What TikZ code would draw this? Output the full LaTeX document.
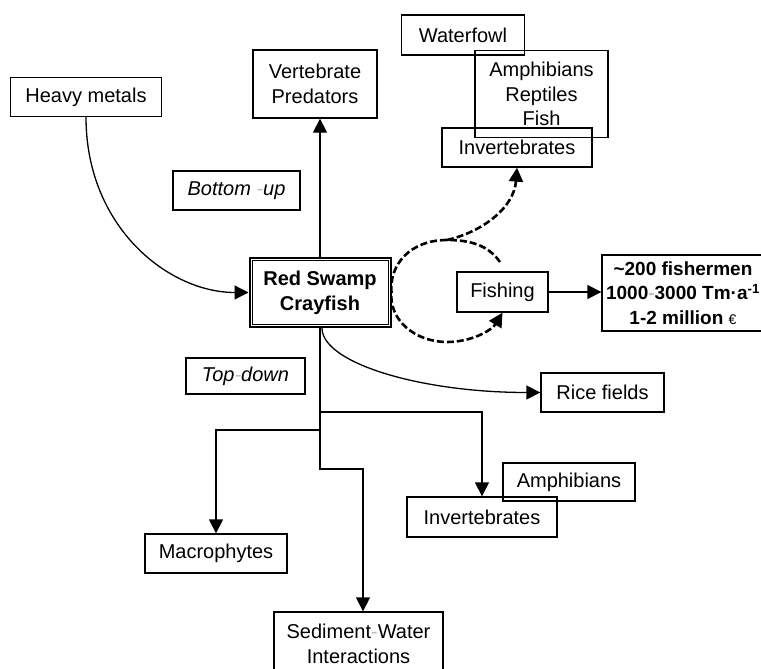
\documentclass[tikz,border=0pt]{standalone}
\usepackage{fontspec}
\setmainfont{Liberation Sans}
\usetikzlibrary{arrows.meta}

\begin{document}
\begin{tikzpicture}[x=1pt,y=-1pt,
    box/.style={draw,line width=1.3pt,inner sep=0pt,align=center,font=\fontsize{20}{24.5}\selectfont},
    arr/.style={line width=1.3pt,-{Triangle[length=14pt,width=14pt]}},
    dashloop/.style={line width=2.6pt,dash pattern=on 7pt off 3pt,-{Triangle[length=14pt,width=14pt]}}]
\useasboundingbox (0,0) rectangle (761,669);
\node[box,minimum width=151pt,minimum height=39pt] (heavy) at (86,97) {Heavy metals};
\node[box,minimum width=124pt,minimum height=68pt] (vert) at (315,84) {Vertebrate\\Predators};
\node[box,minimum width=123pt,minimum height=40pt] (fowl) at (463,35) {Waterfowl};
\node[box,minimum width=133pt,minimum height=87pt,font=\fontsize{20}{24.5}\selectfont] (amphtop) at (541.5,94) {Amphibians\\Reptiles\\Fish};
\node[box,minimum width=150pt,minimum height=39pt] (invtop) at (517,147.5) {Invertebrates};
\node[box,minimum width=127pt,minimum height=39pt,font=\fontsize{20}{24.5}\selectfont\itshape] (bottomup) at (236.5,190.5) {Bottom \textcolor{black!25}{-}up};
\node[box,line width=2pt,minimum width=141pt,minimum height=69pt,font=\fontsize{20}{25}\selectfont\bfseries] (cray) at (320,292.5) {Red Swamp\\Crayfish};
\draw[line width=0.8pt] ([xshift=3.5pt,yshift=-3.5pt]cray.north west) rectangle ([xshift=-3.5pt,yshift=3.5pt]cray.south east);
\node[box,minimum width=91pt,minimum height=40pt] (fishing) at (502.5,292) {Fishing};
\node[box,minimum width=162pt,minimum height=76pt,font=\fontsize{19}{24.5}\selectfont\bfseries] (fisher) at (683,293) {\textasciitilde200 fishermen\\1000\textcolor{black!25}{-}3000 Tm·a\textsuperscript{-1}\\1-2 million {\mdseries\fontsize{14}{14}\selectfont €}};
\node[box,minimum width=123pt,minimum height=39pt] (rice) at (602.5,392.5) {Rice fields};
\node[box,minimum width=119pt,minimum height=36pt,font=\fontsize{20}{24.5}\selectfont\itshape] (topdown) at (245.5,376) {Top\textcolor{black!25}{-}down};
\node[box,minimum width=132pt,minimum height=38pt] (amphbot) at (569,482) {Amphibians};
\node[box,minimum width=150pt,minimum height=40pt] (invbot) at (482,517) {Invertebrates};
\node[box,minimum width=142pt,minimum height=39pt] (macro) at (216,553.5) {Macrophytes};
\node[box,minimum width=169pt,minimum height=64pt] (sed) at (358.5,644) {Sediment\textcolor{black!25}{-}Water\\Interactions};
\coordinate (j1) at (320,412);
\coordinate (j2) at (320,430);
\coordinate (j3) at (363,469);
\coordinate (loopstart) at (500,262);
\coordinate (looptop) at (447,240);
\coordinate (loopbot) at (447,342);
\draw[arr] (heavy.south) .. controls +(0,110) and +(-80,0) .. (cray.west);
\draw[arr] (cray.north) -- (cray.north |- vert.south);
\draw[arr] ([xshift=2pt]cray.south) .. controls +(0,35) and +(-120,0) .. (rice.west);
\draw[arr] (cray.south) |- (j3) -- (j3 |- sed.north);
\draw[arr] (j1) -| (invbot.north);
\draw[arr] (j2) -| (macro.north);
\draw[arr] (fishing.east) -- (fishing.east -| fisher.west);
\draw[dashloop] (loopstart) .. controls (488,245) and (470,240) .. (looptop) .. controls (410,240) and (389,265) .. (cray.east) .. controls (389,320) and (415,342) .. (loopbot) .. controls (472,342) and (492,330) .. (fishing.south);
\draw[dashloop] (looptop) .. controls (482,232) and (514,208) .. (invtop.south);
\end{tikzpicture}
\end{document}
